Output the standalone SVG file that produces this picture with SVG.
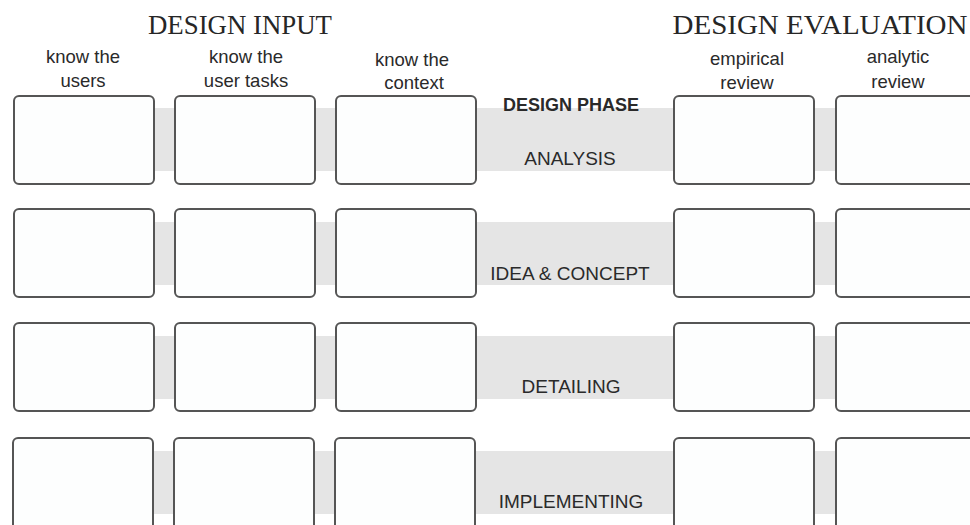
<svg xmlns="http://www.w3.org/2000/svg" width="970" height="525" viewBox="0 0 970 525">
<style>
.band{fill:#e5e5e5;stroke:none}
.box{fill:#fdfefe;stroke:#555555;stroke-width:2}
.head{font-family:"Liberation Serif","Times New Roman",serif;font-size:27px;fill:#262626;text-anchor:middle}
.col{font-family:"Liberation Sans",Arial,sans-serif;font-size:18.5px;fill:#2a2a2a;text-anchor:middle}
.phase{font-family:"Liberation Sans",Arial,sans-serif;font-size:19px;fill:#2a2a2a;text-anchor:middle}
.phasebold{font-family:"Liberation Sans",Arial,sans-serif;font-size:18px;font-weight:bold;fill:#2a2a2a;text-anchor:middle}
</style>
<rect width="970" height="525" fill="#ffffff"/>
<g id="connectors">
<rect class="band" x="150" y="108" width="700" height="63"/>
<rect class="band" x="150" y="222" width="700" height="63"/>
<rect class="band" x="150" y="336" width="700" height="63"/>
<rect class="band" x="150" y="451" width="700" height="63"/>
</g>
<g id="headings">
<text class="head" x="240" y="34" textLength="184" lengthAdjust="spacingAndGlyphs">DESIGN INPUT</text>
<text class="head" x="820" y="34" textLength="295" lengthAdjust="spacingAndGlyphs">DESIGN EVALUATION</text>
</g>
<g id="column-labels">
<text class="col" x="83" y="63">know the</text>
<text class="col" x="83" y="87">users</text>
<text class="col" x="246" y="63">know the</text>
<text class="col" x="246" y="87">user tasks</text>
<text class="col" x="412" y="66">know the</text>
<text class="col" x="414" y="89">context</text>
<text class="col" x="747" y="65">empirical</text>
<text class="col" x="747" y="89">review</text>
<text class="col" x="898" y="63">analytic</text>
<text class="col" x="898" y="88">review</text>
</g>
<g id="phase-labels">
<text class="phasebold" x="571" y="111">DESIGN PHASE</text>
<text class="phase" x="570" y="165">ANALYSIS</text>
<text class="phase" x="570" y="280">IDEA &amp; CONCEPT</text>
<text class="phase" x="571" y="393">DETAILING</text>
<text class="phase" x="571" y="508">IMPLEMENTING</text>
</g>
<g id="row-analysis">
<rect id="r1c1" class="box" x="14" y="96" width="140" height="88" rx="5"/>
<rect id="r1c2" class="box" x="175" y="96" width="140" height="88" rx="5"/>
<rect id="r1c3" class="box" x="336" y="96" width="140" height="88" rx="5"/>
<rect id="r1c4" class="box" x="674" y="96" width="140" height="88" rx="5"/>
<rect id="r1c5" class="box" x="836" y="96" width="150" height="88" rx="5"/>
</g>
<g id="row-idea">
<rect id="r2c1" class="box" x="14" y="209" width="140" height="88" rx="5"/>
<rect id="r2c2" class="box" x="175" y="209" width="140" height="88" rx="5"/>
<rect id="r2c3" class="box" x="336" y="209" width="140" height="88" rx="5"/>
<rect id="r2c4" class="box" x="674" y="209" width="140" height="88" rx="5"/>
<rect id="r2c5" class="box" x="836" y="209" width="150" height="88" rx="5"/>
</g>
<g id="row-detailing">
<rect id="r3c1" class="box" x="14" y="323" width="140" height="88" rx="5"/>
<rect id="r3c2" class="box" x="175" y="323" width="140" height="88" rx="5"/>
<rect id="r3c3" class="box" x="336" y="323" width="140" height="88" rx="5"/>
<rect id="r3c4" class="box" x="674" y="323" width="140" height="88" rx="5"/>
<rect id="r3c5" class="box" x="836" y="323" width="150" height="88" rx="5"/>
</g>
<g id="row-implementing">
<rect id="r4c1" class="box" x="13" y="438" width="140" height="100" rx="5"/>
<rect id="r4c2" class="box" x="174" y="438" width="140" height="100" rx="5"/>
<rect id="r4c3" class="box" x="335" y="438" width="140" height="100" rx="5"/>
<rect id="r4c4" class="box" x="674" y="438" width="140" height="100" rx="5"/>
<rect id="r4c5" class="box" x="836" y="438" width="150" height="100" rx="5"/>
</g>
</svg>
